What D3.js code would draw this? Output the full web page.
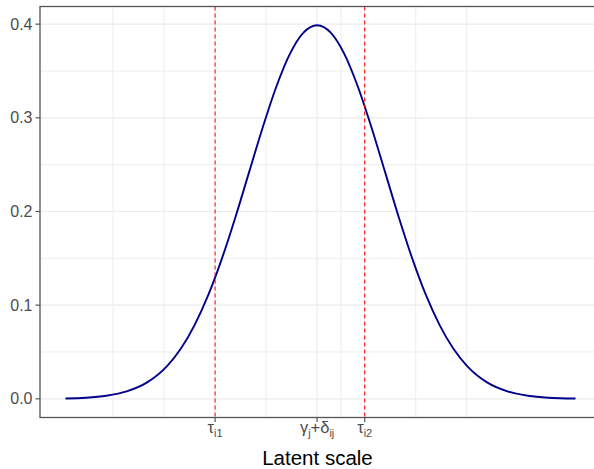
<!DOCTYPE html>
<html>
<head>
<meta charset="utf-8">
<script src="https://cdn.jsdelivr.net/npm/d3@7"></script>
<style>
  body { margin: 0; background: #fff; }
  svg { display: block; font-family: Arial, "Liberation Sans", sans-serif; }
</style>
</head>
<body>
<svg id="chart" width="594" height="469"></svg>
<script>
// Data: latent scale positions and density
const latentX = [-3.7, -3.4, -3.1, -2.8, -2.5, -2.2, -2.0, -1.8, -1.6, -1.4, -1.2, -1.0, -0.8, -0.6, -0.4, -0.2,
                 0, 0.2, 0.4, 0.6, 0.8, 1.0, 1.2, 1.4, 1.6, 1.8, 2.0, 2.2, 2.5, 2.8, 3.1, 3.4, 3.8];
const density = [0.0004, 0.0012, 0.0033, 0.0079, 0.0175, 0.0355, 0.0540, 0.0790, 0.1109, 0.1497, 0.1942, 0.2420, 0.2897, 0.3332, 0.3683, 0.3910,
                 0.3989, 0.3910, 0.3683, 0.3332, 0.2897, 0.2420, 0.1942, 0.1497, 0.1109, 0.0790, 0.0540, 0.0355, 0.0175, 0.0079, 0.0033, 0.0012, 0.0003];
const thresholds = [-1.5, 0.7];
const xBreaks = [-1.5, 0, 0.7];
const xMinor = [-3, -2.25, -0.75, 0.35, 1.45, 2.2];
const xLabels = [
    [{t: 'τ'}, {t: 'i1', sub: true}],
    [{t: 'γ'}, {t: 'j', sub: true}, {t: '+δ'}, {t: 'ij', sub: true}],
    [{t: 'τ'}, {t: 'i2', sub: true}]
];
const yBreaks = [0, 0.1, 0.2, 0.3, 0.4];
const yMinor = [0.05, 0.15, 0.25, 0.35];

// Layout
const PANEL = {left: 40, right: 601, top: 6.5, bottom: 417.5};
const GRID = '#ebebeb';
const AXIS_TEXT = '#4d4d4d';

const svg = d3.select('#chart');

// ggplot-like 5% expansion
const xr = d3.extent(latentX), xpad = (xr[1] - xr[0]) * 0.05;
const yr = [0, d3.max(density)], ypad = (yr[1] - yr[0]) * 0.05;

const x = d3.scaleLinear().domain([xr[0] - xpad, xr[1] + xpad]).range([PANEL.left, PANEL.right]);
const y = d3.scaleLinear().domain([yr[0] - ypad, yr[1] + ypad]).range([PANEL.bottom, PANEL.top]);

const panel = svg.append('g');

// minor grid
panel.selectAll('.vminor').data(xMinor).enter().append('line')
    .attr('x1', d => x(d)).attr('x2', d => x(d))
    .attr('y1', PANEL.top).attr('y2', PANEL.bottom)
    .attr('stroke', GRID).attr('stroke-width', 0.9);
panel.selectAll('.hminor').data(yMinor).enter().append('line')
    .attr('x1', PANEL.left).attr('x2', PANEL.right)
    .attr('y1', d => y(d)).attr('y2', d => y(d))
    .attr('stroke', GRID).attr('stroke-width', 0.9);

// major grid
panel.selectAll('.vmajor').data(xBreaks).enter().append('line')
    .attr('x1', d => x(d)).attr('x2', d => x(d))
    .attr('y1', PANEL.top).attr('y2', PANEL.bottom)
    .attr('stroke', GRID).attr('stroke-width', 1.2);
panel.selectAll('.hmajor').data(yBreaks).enter().append('line')
    .attr('x1', PANEL.left).attr('x2', PANEL.right)
    .attr('y1', d => y(d)).attr('y2', d => y(d))
    .attr('stroke', GRID).attr('stroke-width', 1.2);

// density curve
const line = d3.line()
    .x((d, i) => x(latentX[i]))
    .y(d => y(d))
    .curve(d3.curveMonotoneX);

panel.append('path')
    .datum(density)
    .attr('d', line)
    .attr('fill', 'none')
    .attr('stroke', '#00008b')
    .attr('stroke-width', 1.9);

// thresholds
panel.selectAll('.thr').data(thresholds).enter().append('line')
    .attr('x1', d => x(d)).attr('x2', d => x(d))
    .attr('y1', PANEL.top).attr('y2', PANEL.bottom)
    .attr('stroke', '#ff0000').attr('stroke-width', 1)
    .attr('stroke-dasharray', '4,3');

// panel border
svg.append('rect')
    .attr('x', PANEL.left).attr('y', PANEL.top)
    .attr('width', PANEL.right - PANEL.left).attr('height', PANEL.bottom - PANEL.top)
    .attr('fill', 'none').attr('stroke', '#555').attr('stroke-width', 1.3);

// y axis
const yAxis = svg.append('g');
yAxis.selectAll('line').data(yBreaks).enter().append('line')
    .attr('x1', PANEL.left - 4.5).attr('x2', PANEL.left)
    .attr('y1', d => y(d)).attr('y2', d => y(d))
    .attr('stroke', '#555').attr('stroke-width', 1.2);
yAxis.selectAll('text').data(yBreaks).enter().append('text')
    .attr('x', PANEL.left - 7.5)
    .attr('y', d => y(d))
    .attr('dy', '0.35em')
    .attr('text-anchor', 'end')
    .attr('font-size', 16)
    .attr('fill', AXIS_TEXT)
    .text(d => d3.format('.1f')(d));

// x axis
const xAxis = svg.append('g');
xAxis.selectAll('line').data(xBreaks).enter().append('line')
    .attr('x1', d => x(d)).attr('x2', d => x(d))
    .attr('y1', PANEL.bottom).attr('y2', PANEL.bottom + 4.5)
    .attr('stroke', '#555').attr('stroke-width', 1.2);

xAxis.selectAll('text').data(xBreaks).enter().append('text')
    .attr('x', d => x(d))
    .attr('y', 433)
    .attr('text-anchor', 'middle')
    .attr('font-size', 16.5)
    .attr('fill', AXIS_TEXT)
    .each(function(d, i) {
        const t = d3.select(this);
        xLabels[i].forEach(part => {
            const s = t.append('tspan').text(part.t);
            if (part.sub) s.attr('font-size', 11).attr('dy', 3.5);
            else if (t.selectAll('tspan').size() > 1) s.attr('dy', -3.5);
        });
    });

// axis title
svg.append('text')
    .attr('x', (PANEL.left + PANEL.right) / 2 - 3)
    .attr('y', 465)
    .attr('text-anchor', 'middle')
    .attr('font-size', 20.5)
    .attr('fill', '#000')
    .text('Latent scale');
</script>
</body>
</html>
